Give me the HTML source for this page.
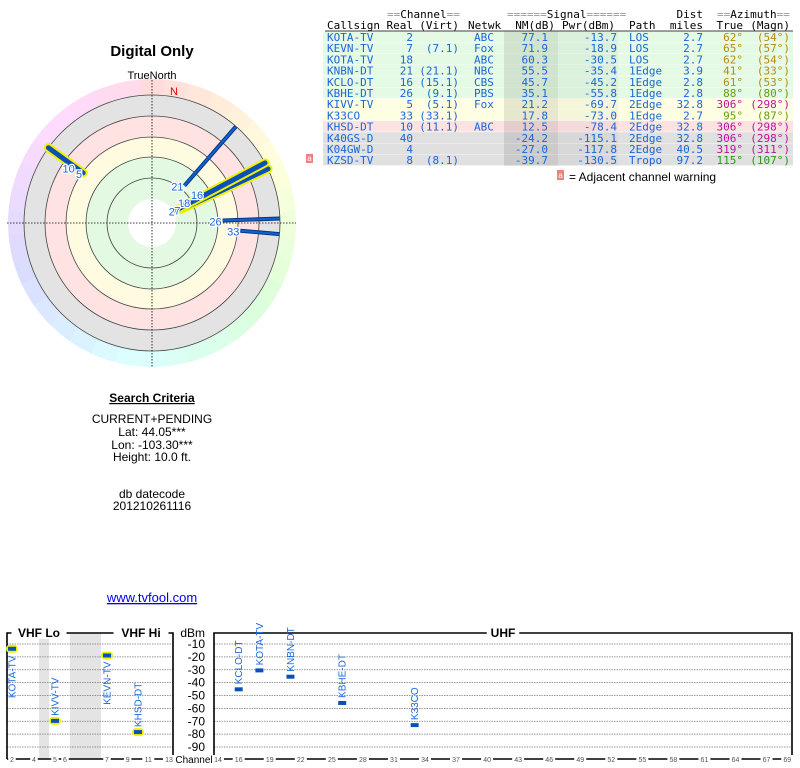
<!DOCTYPE html>
<html><head><meta charset="utf-8"><style>
html,body{margin:0;padding:0;background:#fff;width:800px;height:768px;overflow:hidden}
svg{display:block}
.m{font-family:"DejaVu Sans Mono","Liberation Mono",monospace;font-size:11px}
.s{font-family:"Liberation Sans",sans-serif}
</style></head><body>
<svg id="root" width="800" height="768" viewBox="0 0 800 768" xmlns="http://www.w3.org/2000/svg">
<g id="polar"></g>
<g id="table"></g>
<g id="bars"></g>
<text x="152" y="56" text-anchor="middle" class="s" font-size="15" font-weight="bold">Digital Only</text>
<text x="152" y="79" text-anchor="middle" class="s" font-size="11">TrueNorth</text>
<g class="s" font-size="12" text-anchor="middle">
<text x="152" y="402" font-weight="bold" text-decoration="underline">Search Criteria</text>
<text x="152" y="423">CURRENT+PENDING</text>
<text x="152" y="436">Lat: 44.05***</text>
<text x="152" y="449">Lon: -103.30***</text>
<text x="152" y="461">Height: 10.0 ft.</text>
<text x="152" y="498">db datecode</text>
<text x="152" y="510">201210261116</text>
<text x="152" y="602" font-size="13" fill="#0000ee" text-decoration="underline">www.tvfool.com</text>
</g>
</svg>
<script>
// ---- data ----
const callsigns=["KOTA-TV","KEVN-TV","KOTA-TV","KNBN-DT","KCLO-DT","KBHE-DT","KIVV-TV","K33CO","KHSD-DT","K40GS-D","K04GW-D","KZSD-TV"];
const realCh=[2,7,18,21,16,26,5,33,10,40,4,8];
const virtCh=["","(7.1)","","(21.1)","(15.1)","(9.1)","(5.1)","(33.1)","(11.1)","","","(8.1)"];
const netwk=["ABC","Fox","ABC","NBC","CBS","PBS","Fox","","ABC","","",""];
const nmDb=[77.1,71.9,60.3,55.5,45.7,35.1,21.2,17.8,12.5,-24.2,-27.0,-39.7];
const pwrDbm=[-13.7,-18.9,-30.5,-35.4,-45.2,-55.8,-69.7,-73.0,-78.4,-115.1,-117.8,-130.5];
const paths=["LOS","LOS","LOS","1Edge","1Edge","1Edge","2Edge","1Edge","2Edge","2Edge","2Edge","Tropo"];
const distMi=[2.7,2.7,2.7,3.9,2.8,2.8,32.8,2.7,32.8,32.8,40.5,97.2];
const azTrue=[62,65,62,41,61,88,306,95,306,306,319,115];
const azMagn=[54,57,54,33,53,80,298,87,298,298,311,107];
const dbmTicks=[-10,-20,-30,-40,-50,-60,-70,-80,-90];
const vhfTicks=[2,4,5,6,7,9,11,13];
const uhfTicks=[14,16,19,22,25,28,31,34,37,40,43,46,49,52,55,58,61,64,67,69];

const NS="http://www.w3.org/2000/svg";
function mk(tag,attrs,parent,txt){const e=document.createElementNS(NS,tag);for(const k in attrs)e.setAttribute(k,attrs[k]);if(txt!==undefined)e.textContent=txt;parent.appendChild(e);return e;}

// ---- polar ----
const P=document.getElementById('polar');
const cx=152,cy=223;
const rOf=nm=>24+(80-nm)*1.04;
for(let a=0;a<360;a+=10){
  const a1=(a-5)*Math.PI/180,a2=(a+5.5)*Math.PI/180,R=144;
  const hue=a*0.95;
  const el=mk('path',{d:`M${cx} ${cy} L${cx+R*Math.sin(a1)} ${cy-R*Math.cos(a1)} A${R} ${R} 0 0 1 ${cx+R*Math.sin(a2)} ${cy-R*Math.cos(a2)} Z`,fill:`hsl(${hue},100%,93%)`},P);
  
  
}
[[128,'#e3e3e3'],[107,'#ffe3e3'],[86,'#fffbe0'],[66,'#e4f9e2'],[24,'#ffffff']].forEach(b=>{
  const el=mk('circle',{cx:cx,cy:cy,r:b[0],fill:b[1]},P);
  
  
});
[128,107,86,66,45].forEach(r=>{
  const el=mk('circle',{cx:cx,cy:cy,r:r,fill:'none',stroke:'#444','stroke-width':0.8},P);
  
  
});
let el=mk('line',{x1:7,y1:cy,x2:296,y2:cy,stroke:'#000','stroke-width':0.8,'stroke-dasharray':'1.5,1.5'},P);


el=mk('line',{x1:cx,y1:80,x2:cx,y2:367,stroke:'#000','stroke-width':0.8,'stroke-dasharray':'1.5,1.5'},P);


el=mk('text',{x:174,y:95,fill:'#e00','font-size':11,'text-anchor':'middle',class:'s'},P,'N');


const order=[...Array(nmDb.length).keys()].filter(i=>nmDb[i]>0).reverse();
order.forEach(i=>{
  const a=azTrue[i]*Math.PI/180,r0=rOf(nmDb[i]),r1=128;
  const x0=cx+r0*Math.sin(a),y0=cy-r0*Math.cos(a),x1=cx+r1*Math.sin(a),y1=cy-r1*Math.cos(a);
  const vhf=realCh[i]<14;
  const g=mk('g',{},P);
  
  
  if(vhf){mk('line',{x1:x0,y1:y0,x2:x1,y2:y1,stroke:'#f0f000','stroke-width':9,'stroke-linecap':'round'},g);
    mk('line',{x1:x0,y1:y0,x2:x1,y2:y1,stroke:'#0a50b8','stroke-width':5,'stroke-linecap':'round'},g);}
  else{mk('line',{x1:x0,y1:y0,x2:x1,y2:y1,stroke:'#05307a','stroke-width':4},g);
    mk('line',{x1:x0,y1:y0,x2:x1,y2:y1,stroke:'#1060d0','stroke-width':2.2},g);}
});
order.forEach(i=>{
  const a=azTrue[i]*Math.PI/180,r0=rOf(nmDb[i]);
  const x0=cx+r0*Math.sin(a),y0=cy-r0*Math.cos(a);
  const t=mk('text',{x:x0-1,y:y0+5,fill:'#1a66d8','font-size':11,'text-anchor':'end',class:'s',stroke:'#fff','stroke-width':2.5,'paint-order':'stroke'},P,String(realCh[i]));
  
  
});

// ---- table ----
const T=document.getElementById('table');
const rowY=i=>37+i*11.2;
const rowBg=i=>i<6?'#e4fae4':i<8?'#fefee2':i<9?'#fde2e2':'#e0e0e0';
const azCol=a=>a>=300?'#c0109a':a>=100?'#289a10':a>=85?'#6a9a10':'#b88a10';
callsigns.forEach((c,i)=>{
  el=mk('rect',{x:323,y:rowY(i)-5.6,width:470,height:11.2,fill:rowBg(i)},T);
  
  
  el=mk('line',{x1:323,y1:rowY(i)+5.6,x2:793,y2:rowY(i)+5.6,stroke:'#fff','stroke-width':0.8},T);
  
  
});
el=mk('rect',{x:504,y:rowY(0)-5.6,width:54,height:11.2*12,fill:'rgba(0,0,0,0.09)'},T);


el=mk('rect',{x:558,y:rowY(0)-5.6,width:60,height:11.2*12,fill:'rgba(0,0,0,0.035)'},T);


function tx(x,y,s,anchor,fill,name){const t=mk('text',{x:x,y:y,'text-anchor':anchor,fill:fill,class:'m'},T,s);t.setAttribute('xml:space','preserve');t.style.whiteSpace='pre';return t;}
const blue='#1a66d8';
callsigns.forEach((c,i)=>{
  const y=rowY(i)+4;
  const g=mk('g',{},T);
  
  
  g.appendChild(tx(327,y,c,'start',blue));
  g.appendChild(tx(413,y,String(realCh[i]),'end',blue));
  g.appendChild(tx(459,y,virtCh[i],'end',blue));
  g.appendChild(tx(474,y,netwk[i],'start',blue));
  g.appendChild(tx(548,y,nmDb[i].toFixed(1),'end',blue));
  g.appendChild(tx(617,y,pwrDbm[i].toFixed(1),'end',blue));
  g.appendChild(tx(629,y,paths[i],'start',blue));
  g.appendChild(tx(703,y,distMi[i].toFixed(1),'end',blue));
  g.appendChild(tx(743,y,azTrue[i]+'°','end',azCol(azTrue[i])));
  g.appendChild(tx(790,y,'('+azMagn[i]+'°)','end',azCol(azTrue[i])));
});
const hg=mk('g',{},T);


function hdr(x,y,parts,anchor){const t=mk('text',{x:x,y:y,'text-anchor':anchor,class:'m'},hg);t.setAttribute('xml:space','preserve');parts.forEach(p=>{mk('tspan',{fill:p[1]},t,p[0]);});return t;}
hdr(387,18,[['==','#999'],['Channel','#000'],['==','#999']],'start');
hdr(507,18,[['======','#999'],['Signal','#000'],['======','#999']],'start');
hdr(703,18,[['Dist','#000']],'end');
hdr(717,18,[['==','#999'],['Azimuth','#000'],['==','#999']],'start');
hdr(327,29,[['Callsign','#000']],'start');
hdr(413,29,[['Real','#000']],'end');
hdr(459,29,[['(Virt)','#000']],'end');
hdr(468,29,[['Netwk','#000']],'start');
hdr(555,29,[['NM(dB)','#000']],'end');
hdr(615,29,[['Pwr(dBm)','#000']],'end');
hdr(629,29,[['Path','#000']],'start');
hdr(703,29,[['miles','#000']],'end');
hdr(743,29,[['True','#000']],'end');
hdr(790,29,[['(Magn)','#000']],'end');
el=mk('line',{x1:325,y1:31,x2:793,y2:31,stroke:'#000','stroke-width':0.8},T);


el=mk('rect',{x:306,y:154,width:7,height:9,fill:'#f08080'},T);


el=mk('text',{x:309.5,y:161,'font-size':8,fill:'#fff','text-anchor':'middle',class:'s'},T,'a');


el=mk('rect',{x:557,y:170,width:7,height:10,fill:'#f08080'},T);


el=mk('text',{x:560.5,y:178,'font-size':8,fill:'#fff','text-anchor':'middle',class:'s'},T,'a');


el=mk('text',{x:569,y:181,'font-size':12,fill:'#000',class:'s'},T,'= Adjacent channel warning');



// ---- bottom chart ----
const B=document.getElementById('bars');
const yOf=d=>644+(-10-d)*1.2875;
const xOf=ch=>ch<=4?12+(ch-2)*11:ch<=6?55+(ch-5)*10:ch<=13?107+(ch-7)*10.33:218+(ch-14)*10.35;
[[39,10],[70,31]].forEach(r=>{
  el=mk('rect',{x:r[0],y:633,width:r[1],height:126,fill:'#e4e4e4'},B);
  
  
});
dbmTicks.forEach(d=>{
  [[7,173],[214,792]].forEach(s=>{
    el=mk('line',{x1:s[0],y1:yOf(d),x2:s[1],y2:yOf(d),stroke:'#777','stroke-width':0.8,'stroke-dasharray':'1.5,1'},B);
    
    
  });
  el=mk('text',{x:205,y:yOf(d)+4,'text-anchor':'end','font-size':12,class:'s'},B,String(d));
  
  
});
el=mk('text',{x:205,y:637,'text-anchor':'end','font-size':12,class:'s'},B,'dBm');


[[7,173],[214,792]].forEach(s=>{
  el=mk('path',{d:`M${s[0]} 759 V633 H${s[1]} V759 H${s[0]}`,fill:'none',stroke:'#000','stroke-width':1.6},B);
  
  
});
[['VHF Lo',39],['VHF Hi',141],['UHF',503]].forEach(l=>{
  const w=l[0].length*7.5+10;
  el=mk('rect',{x:l[1]-w/2,y:627,width:w,height:12,fill:'#fff'},B);
  
  
  el=mk('text',{x:l[1],y:637,'text-anchor':'middle','font-size':12,'font-weight':'bold',class:'s'},B,l[0]);
  
  
});
vhfTicks.concat(uhfTicks).forEach(ch=>{
  const x=xOf(ch),w=String(ch).length*4.5+3;
  el=mk('rect',{x:x-w/2,y:755,width:w,height:9,fill:'#fff'},B);
  
  
  el=mk('text',{x:x,y:762,'text-anchor':'middle','font-size':7,fill:'#555',class:'s'},B,String(ch));
  
  
});
el=mk('text',{x:194,y:763,'text-anchor':'middle','font-size':10,class:'s'},B,'Channel');


callsigns.forEach((c,i)=>{
  if(pwrDbm[i]<-90)return;
  const x=xOf(realCh[i]),y=yOf(pwrDbm[i]),vhf=realCh[i]<14;
  const g=mk('g',{},B);
  
  
  if(vhf)mk('rect',{x:x-6,y:y-4,width:12,height:8,rx:4,fill:'#f0f000'},g);
  mk('rect',{x:x-4,y:y-2,width:8,height:4,fill:'#0a50b8'},g);
  const len=c.length*6.2;
  const above=(y-5-len)>=620;
  const ty=above?y-5:y+6+len;
  const t=mk('text',{x:0,y:0,transform:`translate(${x+3.5},${ty}) rotate(-90)`,'font-size':10,fill:'#1a66d8',class:'s'},g,c);
  
  
});
</script>
</body></html>
